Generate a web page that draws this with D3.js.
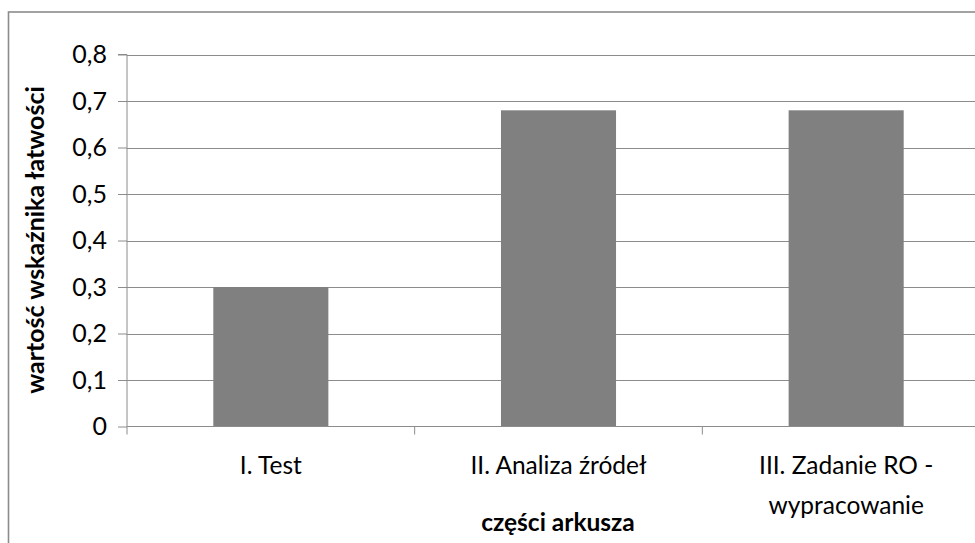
<!DOCTYPE html>
<html>
<head>
<meta charset="utf-8">
<script src="https://cdn.jsdelivr.net/npm/d3@7"></script>
<style>
  html, body { margin: 0; padding: 0; background: #fff; }
  svg { display: block; }
  text { font-family: Lato, "Open Sans", sans-serif; fill: #000; }
</style>
</head>
<body>
<svg id="chart" width="975" height="543"></svg>
<script>
const categories = ["I. Test", "II. Analiza źródeł", "III. Zadanie RO - wypracowanie"];
const categoryLines = [["I. Test"], ["II. Analiza źródeł"], ["III. Zadanie RO -", "wypracowanie"]];
const values = [0.30, 0.68, 0.68];
const yTicks = [0, 0.1, 0.2, 0.3, 0.4, 0.5, 0.6, 0.7, 0.8];
const yTitle = "wartość wskaźnika łatwości";
const xTitle = "części arkusza";

(function () {
const svg = d3.select("#chart");
const W = 975, H = 543;
const pLeft = 127, pRight = 990, pTop = 54.5, pBottom = 426.5;
const gridColor = "#8c8c8c";

// outer chart border (extends past the visible frame to the right/bottom)
svg.append("rect")
  .attr("x", 8.5).attr("y", 12)
  .attr("width", 1100).attr("height", 700)
  .attr("fill", "none").attr("stroke", "#8c8c8c").attr("stroke-width", 1.6);

const x = d3.scaleBand().domain(categories).range([pLeft, pRight]).paddingInner(0.6).paddingOuter(0.3);
const xb = d3.scaleBand().domain(categories).range([pLeft, pRight]);
const y = d3.scaleLinear().domain([0, 0.8]).range([pBottom, pTop]);

// gridlines
svg.append("g").selectAll("line").data(yTicks.filter(d => d > 0)).join("line")
  .attr("x1", pLeft).attr("x2", W + 20)
  .attr("y1", d => Math.round(y(d)) + 0.5).attr("y2", d => Math.round(y(d)) + 0.5)
  .attr("stroke", gridColor).attr("stroke-width", 1);

// bars
svg.append("g").selectAll("rect").data(values).join("rect")
  .attr("x", (d, i) => x(categories[i]))
  .attr("width", x.bandwidth())
  .attr("y", d => y(d))
  .attr("height", d => y(0) - y(d))
  .attr("fill", "#808080");

// y axis
const yAxis = d3.axisLeft(y).tickValues(yTicks).tickSize(9).tickPadding(11)
  .tickFormat(d => d3.format(".1f")(d).replace(".", ",").replace(/^0,0$/, "0"));
const gy = svg.append("g").attr("transform", `translate(${pLeft},0)`).call(yAxis);
gy.select(".domain").attr("stroke", gridColor).attr("d", `M-9,${pTop}H0V${pBottom}`);
gy.selectAll(".tick line").attr("stroke", gridColor);
gy.selectAll(".tick text").style("font-size", "25px").style("font-family", "Lato, sans-serif").attr("fill", "#000");

// x axis
const gx = svg.append("g").attr("transform", `translate(0,${pBottom})`);
gx.append("line").attr("x1", pLeft).attr("x2", W + 20).attr("y1", 0).attr("y2", 0).attr("stroke", gridColor);
const bounds = categories.map(c => xb(c)).concat([xb(categories[2]) + xb.bandwidth()]);
gx.selectAll("line.tk").data(bounds).join("line").attr("class", "tk")
  .attr("x1", d => d).attr("x2", d => d).attr("y1", 0).attr("y2", 8)
  .attr("stroke", gridColor);

// category labels
categories.forEach((c, i) => {
  const cx = xb(c) + xb.bandwidth() / 2;
  const t = svg.append("text")
    .attr("x", cx)
    .attr("y", 474)
    .attr("text-anchor", "middle")
    .style("font-size", "24.5px");
  categoryLines[i].forEach((ln, j) => {
    t.append("tspan").attr("x", cx).attr("dy", j === 0 ? 0 : 40).text(ln);
  });
});

// axis titles
svg.append("text")
  .attr("x", 558).attr("y", 531)
  .attr("text-anchor", "middle")
  .style("font-size", "24.5px").style("font-weight", "bold")
  .text(xTitle);

svg.append("text")
  .attr("transform", `translate(44,240) rotate(-90)`)
  .attr("text-anchor", "middle")
  .style("font-size", "25px").style("font-weight", "bold")
  .text(yTitle);
})();
</script>
</body>
</html>
